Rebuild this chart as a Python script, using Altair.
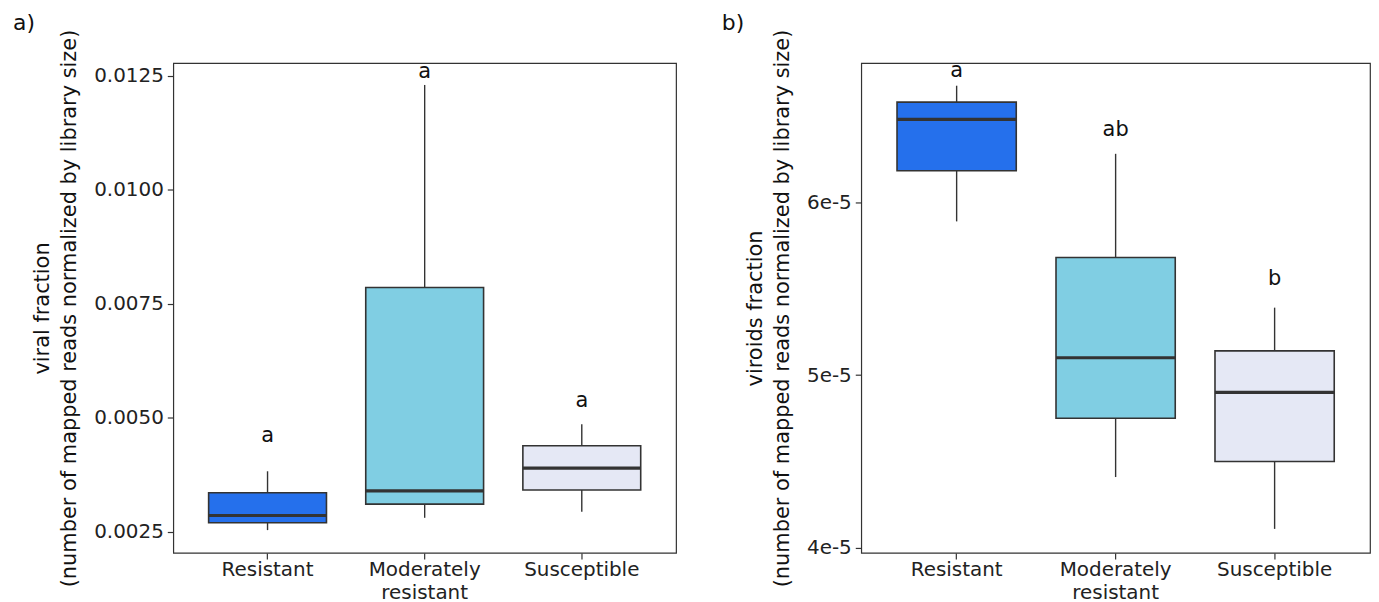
import altair as alt
import pandas as pd

categories = ["Resistant", "Moderately resistant", "Susceptible"]
box_colors = ["#2570EC", "#80CEE3", "#E5E8F5"]

# panel a: viral fraction
viral_lower = [0.00254, 0.00281, 0.00294]
viral_q1 = [0.00270, 0.00311, 0.00342]
viral_median = [0.00286, 0.00340, 0.00390]
viral_q3 = [0.00336, 0.00786, 0.00439]
viral_upper = [0.00383, 0.01230, 0.00486]
viral_letters = ["a", "a", "a"]
viral_letter_pos = [0.00447, 0.01246, 0.00525]
viral_ticks = [0.0025, 0.0050, 0.0075, 0.0100, 0.0125]

# panel b: viroids fraction
viroid_lower = [5.889e-5, 4.41e-5, 4.11e-5]
viroid_q1 = [6.182e-5, 4.75e-5, 4.50e-5]
viroid_median = [6.479e-5, 5.10e-5, 4.90e-5]
viroid_q3 = [6.579e-5, 5.68e-5, 5.14e-5]
viroid_upper = [6.674e-5, 6.28e-5, 5.39e-5]
viroid_letters = ["a", "ab", "b"]
viroid_letter_pos = [6.726e-5, 6.385e-5, 5.52e-5]
viroid_ticks = [4e-5, 5e-5, 6e-5]

FONT = "DejaVu Sans"
DARK = "#333333"


def panel(lower, q1, med, q3, upper, letters, letter_pos, ticks, domain,
          width, title_lines, tick_fmt_expr, panel_label, label_dx):
    df = pd.DataFrame({
        "cat": categories, "lower": lower, "q1": q1, "median": med,
        "q3": q3, "upper": upper, "letter": letters, "lpos": letter_pos,
    })
    xenc = alt.X(
        "cat:N", sort=categories, title=None,
        scale=alt.Scale(domain=categories, paddingInner=0.25, paddingOuter=0.225),
        axis=alt.Axis(labelAngle=0, domain=False, ticks=True, tickSize=6,
                      tickColor=DARK, tickWidth=1.2, labelFontSize=20,
                      labelFont=FONT, labelColor="#222222", labelPadding=1,
                      labelExpr="split(datum.label, ' ')", labelLineHeight=22.5),
    )
    yscale = alt.Scale(domain=domain, nice=False, zero=False)
    yaxis = alt.Axis(values=ticks, labelExpr=tick_fmt_expr, grid=False,
                     domain=False, tickSize=6, tickColor=DARK, tickWidth=1.2,
                     labelFontSize=20, labelFont=FONT, labelColor="#222222",
                     labelPadding=4, title=title_lines, titleFont=FONT,
                     titleFontSize=21, titleFontWeight="normal",
                     titleColor="#111111", titlePadding=14, titleLineHeight=27)
    base = alt.Chart(df)
    color = alt.Color("cat:N", scale=alt.Scale(domain=categories, range=box_colors),
                      legend=None)
    whisk_lo = base.mark_rule(color=DARK, strokeWidth=1.4).encode(
        x=xenc, y=alt.Y("lower:Q", scale=yscale, axis=yaxis), y2="q1:Q")
    whisk_hi = base.mark_rule(color=DARK, strokeWidth=1.4).encode(
        x=xenc, y=alt.Y("q3:Q", scale=yscale, axis=yaxis), y2="upper:Q")
    box = base.mark_rect(stroke=DARK, strokeWidth=1.6).encode(
        x=xenc, y=alt.Y("q1:Q", scale=yscale, axis=yaxis), y2="q3:Q", color=color)
    median = base.mark_rect(stroke=DARK, strokeWidth=3.2, fillOpacity=0).encode(
        x=xenc, y=alt.Y("median:Q", scale=yscale, axis=yaxis), y2="median:Q")
    text = base.mark_text(font=FONT, fontSize=21, color="#111111",
                          baseline="alphabetic", align="center").encode(
        x=xenc, y=alt.Y("lpos:Q", scale=yscale, axis=yaxis), text="letter:N")
    lab = alt.Chart(pd.DataFrame({"p": [panel_label]})).mark_text(
        font=FONT, fontSize=22, color="#111111", align="left", baseline="top"
    ).encode(x=alt.value(label_dx), y=alt.value(-50), text="p:N")
    return alt.layer(whisk_lo, whisk_hi, box, median, text, lab).properties(
        width=width, height=492)


pa = panel(viral_lower, viral_q1, viral_median, viral_q3, viral_upper,
           viral_letters, viral_letter_pos, viral_ticks, [0.00204, 0.01278], 505,
           ["viral fraction", "(number of mapped reads normalized by library size)"],
           "format(datum.value, '.4f')", "a)", -161)
pb = panel(viroid_lower, viroid_q1, viroid_median, viroid_q3, viroid_upper,
           viroid_letters, viroid_letter_pos, viroid_ticks, [3.971e-5, 6.805e-5], 511,
           ["viroids fraction", "(number of mapped reads normalized by library size)"],
           "format(datum.value * 1e5, 'd') + 'e-5'", "b)", -140)

chart = alt.hconcat(pa, pb, spacing=44).properties(
    padding={"left": 4, "top": 2, "right": 0, "bottom": 0},
    background="white",
).configure_view(stroke=DARK, strokeWidth=1.2)

chart.save("out.html", embed_options={"renderer": "svg", "actions": False})
